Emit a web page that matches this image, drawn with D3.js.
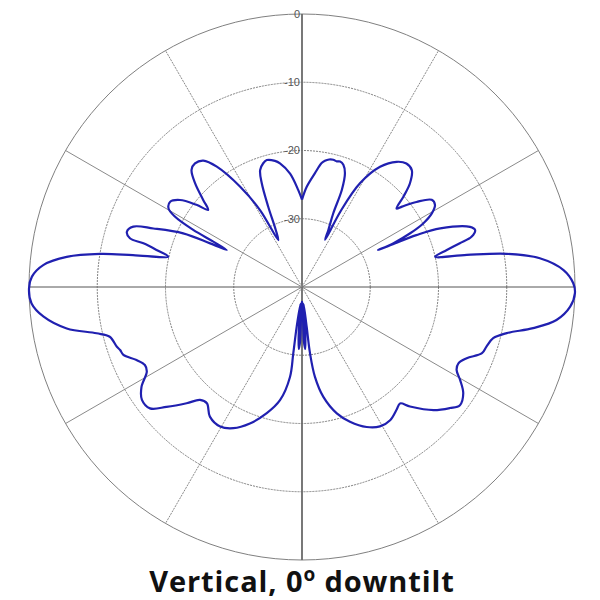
<!DOCTYPE html>
<html>
<head>
<meta charset="utf-8">
<script src="https://cdn.jsdelivr.net/npm/d3@7"></script>
<style>
  html, body { margin: 0; padding: 0; background: #fff; }
  svg { display: block; }
</style>
</head>
<body>
<svg id="chart" width="600" height="600"></svg>
<script>
// ---- data ----
const ringDb = [0, -10, -20, -30];
const ringLabels = ["0", "-10", "-20", "-30"];
const spokeDeg = [0, 30, 60, 90, 120, 150, 180, 210, 240, 270, 300, 330];
const titleMain = "Vertical, 0";
const titleSup = "o";
const titleEnd = " downtilt";

// pattern: angle in degrees, clockwise from top; gain in dB
const patternDeg = [
  0, 2.7, 6.5, 9.0, 10.3, 12.0, 13.8, 15.5, 16.9, 18.7, 20.7, 22.3, 23.0, 24.8, 26.1,
  27.0, 29.2, 33.0, 37.1, 40.2, 43.2, 46.2, 48.3, 50.3,
  51.2, 53.4, 56.1, 58.3, 60.4, 62.3, 63.6, 64.4, 64.1,
  64.8, 65.6, 67.0, 70.3, 71.8, 73.5, 74.5, 75.7, 77.2,
  79.0, 80.8, 83.1, 86.3, 89.2, 91.3, 94.2, 97.4, 100.1, 102.7, 105.0, 107.9, 110.2,
  113.4, 116.0, 118.2, 120.5, 123.4, 126.8, 129.3, 133.1, 137.9, 139.9, 142.4, 146.5,
  150.8, 155.2, 160.4, 164.6, 169.0, 171.8, 173.1, 173.3, 174.5,
  176.0, 177.0, 178.0, 179.5, 180.5, 182.0, 183.0, 184.0,
  185.5, 187.6, 187.5, 187.6, 191.0, 195.6, 200.9, 205.9, 210.4, 215.4, 219.3, 222.1,
  224.8, 228.5, 231.4, 234.8, 238.1, 241.4, 243.6, 246.2, 249.2, 250.9, 252.1, 255.5,
  257.3, 260.0, 263.5, 266.5, 269.7, 272.2, 274.9, 277.3, 279.3, 280.7, 282.8,
  284.3, 285.4, 285.8, 287.5, 289.7, 291.5, 294.3, 295.4, 296.2,
  297.1, 297.7, 299.0, 300.5, 302.9, 305.5, 307.9, 309.4,
  311.4, 314.1, 316.7, 319.1, 322.0, 324.7, 328.3, 331.4, 333.2,
  335.3, 337.2, 338.8, 340.3, 342.6, 344.5, 347.9, 349.9, 354.0, 357.8, 360
];
const patternDb = [
  -27.2, -25.3, -23.2, -21.6, -21.2, -20.9, -20.8, -20.9, -20.8, -21.1, -22.2, -24.6, -28.3, -30.8, -32.3,
  -27.5, -22.6, -19.0, -17.0, -16.3, -16.5, -18.1, -20.1, -22.0,
  -21.2, -19.1, -17.1, -17.1, -18.1, -19.9, -22.3, -25.2, -27.6,
  -25.0, -21.6, -18.0, -13.85, -13.3, -14.1, -16.0, -18.1, -20.0,
  -15.4, -9.6, -4.9, -1.6, -0.25, 0, -0.6, -2.4, -5.6, -9.25, -11.0, -11.6, -11.9,
  -13.7, -14.5, -14.3, -13.1, -11.7, -11.1, -12.0, -13.6, -16.4, -17.7, -17.3, -16.6,
  -16.6, -17.4, -19.05, -20.8, -23.6, -26.7, -30.2, -34.1, -37.5,
  -33.0, -30.9, -32.0, -37.8, -37.8, -32.0, -30.9, -33.0,
  -37.5, -34.1, -30.2, -26.7, -23.1, -20.8, -18.6, -17.0, -16.3, -16.7, -18.0, -17.7,
  -16.0, -13.5, -11.5, -11.3, -12.3, -14.1, -14.3, -13.5, -12.0, -11.8, -11.5, -10.9,
  -9.15, -5.0, -1.85, -0.3, 0, -0.4, -2.0, -5.25, -10.0, -14.8, -19.9,
  -18.0, -15.9, -13.8, -13.1, -13.75, -16.6, -20.9, -25.1, -27.7,
  -25.4, -22.0, -18.7, -17.3, -17.0, -18.05, -20.4, -22.2,
  -20.7, -18.2, -16.4, -16.05, -16.5, -18.4, -22.7, -27.2, -32.3,
  -30.8, -27.2, -23.7, -21.8, -21.0, -20.7, -21.1, -21.6, -23.3, -25.8, -27.2
];

// ---- drawing ----
const svg = d3.select("#chart");
const cx = 302, cy = 287, R = 273;
const r = d3.scaleLinear().domain([-40, 0]).range([0, R]);
const toRad = d3.scaleLinear().domain([0, 360]).range([0, 2 * Math.PI]);

const g = svg.append("g").attr("transform", `translate(${cx},${cy})`);

// rings
g.selectAll("circle.ring").data(ringDb).enter().append("circle")
  .attr("class", "ring")
  .attr("r", d => r(d))
  .attr("fill", "none")
  .attr("stroke", "#808080")
  .attr("stroke-width", 1)
  .attr("stroke-dasharray", (d, i) => i === 0 ? null : "2,1");

// spokes
g.selectAll("line.spoke").data(spokeDeg).enter().append("line")
  .attr("class", "spoke")
  .attr("x1", 0).attr("y1", 0)
  .attr("x2", d => R * Math.sin(toRad(d)))
  .attr("y2", d => -R * Math.cos(toRad(d)))
  .attr("stroke", d => (d % 180 === 0) ? "#6a6a6a" : (d % 90 === 0 ? "#555" : "#8a8a8a"))
  .attr("stroke-width", d => (d % 180 === 0) ? 1.8 : 1)
  .attr("stroke-dasharray", d => (d % 90 === 0 || d % 60 === 0) ? null : "2,1");

// ring labels
g.selectAll("text.rl").data(ringDb).enter().append("text")
  .attr("class", "rl")
  .attr("x", -2)
  .attr("y", d => -r(d))
  .attr("dy", "0.35em")
  .attr("text-anchor", "end")
  .attr("font-family", "Liberation Sans, Arial, sans-serif")
  .attr("font-size", 11)
  .attr("fill", "#555")
  .text((d, i) => ringLabels[i]);

// pattern
const pts = patternDeg.map((a, i) => [toRad(a), r(patternDb[i])]);
const line = d3.lineRadial()
  .angle(d => d[0])
  .radius(d => d[1])
  .curve(d3.curveCatmullRom.alpha(0.5));
g.append("path")
  .attr("d", line(pts))
  .attr("fill", "none")
  .attr("stroke", "#2020b0")
  .attr("stroke-width", 2.2)
  .attr("stroke-linejoin", "round");

// title
const t = svg.append("text")
  .attr("x", 302).attr("y", 592)
  .attr("text-anchor", "middle")
  .attr("font-family", "'Open Sans', Lato, sans-serif")
  .attr("font-weight", "bold")
  .attr("font-size", 29)
  .attr("letter-spacing", 0.9)
  .attr("fill", "#111");
t.append("tspan").text(titleMain);
t.append("tspan").attr("font-size", 19).attr("dy", -11).text(titleSup);
t.append("tspan").attr("dy", 11).text(titleEnd);
</script>
</body>
</html>
